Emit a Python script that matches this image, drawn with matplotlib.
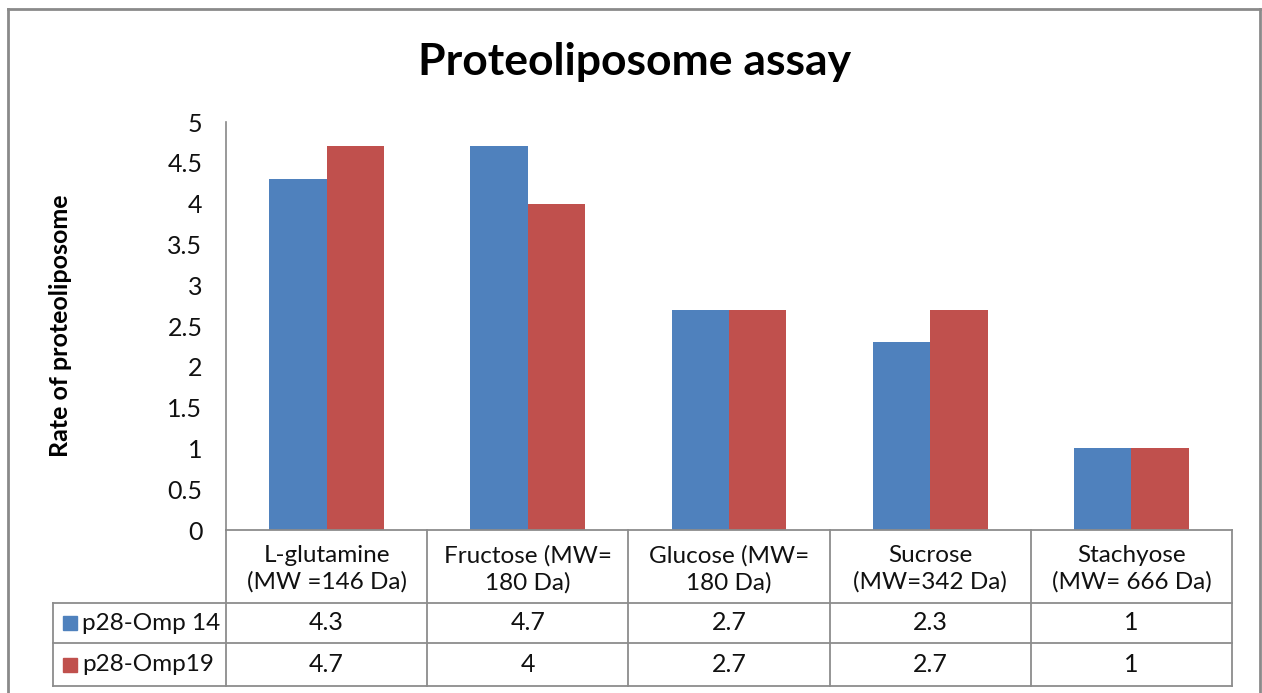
import matplotlib
matplotlib.use("Agg")
import matplotlib.pyplot as plt
import matplotlib.transforms as mtransforms
from matplotlib.lines import Line2D
from matplotlib.patches import Rectangle
import numpy as np

categories = ["L-glutamine\n(MW =146 Da)", "Fructose (MW=\n180 Da)", "Glucose (MW=\n180 Da)",
              "Sucrose\n(MW=342 Da)", "Stachyose\n(MW= 666 Da)"]
series_names = ["p28-Omp 14", "p28-Omp19"]
omp14 = [4.3, 4.7, 2.7, 2.3, 1]
omp19 = [4.7, 4, 2.7, 2.7, 1]
value_labels = [["4.3", "4.7", "2.7", "2.3", "1"], ["4.7", "4", "2.7", "2.7", "1"]]
yticks = [0, 0.5, 1, 1.5, 2, 2.5, 3, 3.5, 4, 4.5, 5]
ytick_labels = ["0", "0.5", "1", "1.5", "2", "2.5", "3", "3.5", "4", "4.5", "5"]
colors = ["#4F81BD", "#C0504D"]

plt.rcParams['font.family'] = ['Lato', 'DejaVu Sans']

W, H = 1262, 693
fig = plt.figure(figsize=(W / 100, H / 100), dpi=100)

def fx(px):
    return px / W

def fy(py):
    return 1 - py / H

ax_left, ax_right, ax_top, ax_bot = 226, 1232, 122, 530
ax = fig.add_axes([fx(ax_left), fy(ax_bot), fx(ax_right - ax_left), (ax_bot - ax_top) / H])

x = np.arange(len(categories))
bw = 0.285
ax.bar(x - bw / 2, omp14, bw, color=colors[0], zorder=2)
ax.bar(x + bw / 2, omp19, bw, color=colors[1], zorder=2)
ax.set_xlim(-0.5, len(categories) - 0.5)
ax.set_ylim(0, 5)
ax.set_yticks(yticks)
ax.set_yticklabels(ytick_labels, fontsize=18, color="#111111")
ax.tick_params(axis='y', length=0, pad=17)
ax.set_xticks([])
for s in ["top", "right", "bottom"]:
    ax.spines[s].set_visible(False)
ax.spines["left"].set_color("#888888")
ax.spines["left"].set_linewidth(1.2)

ax.set_ylabel("Rate of proteoliposome", fontsize=18, fontweight="bold")
ax.yaxis.set_label_coords((72 - ax_left) / (ax_right - ax_left), 0.5)

# Data table
axh = ax_bot - ax_top
def ya(py):
    return (ax_bot - py) / axh

trans = mtransforms.blended_transform_factory(ax.transData, ax.transAxes)
dpp = (len(categories)) / (ax_right - ax_left)
leg_left = -0.5 + (53 - ax_left) * dpp
right = len(categories) - 0.5
gc = "#8c8c8c"
lw = 1.3
row_y = [530, 603, 643, 686]
ax.add_line(Line2D([-0.5, right], [ya(530)] * 2, transform=trans, color=gc, lw=lw, clip_on=False))
for py in row_y[1:]:
    ax.add_line(Line2D([leg_left, right], [ya(py)] * 2, transform=trans, color=gc, lw=lw, clip_on=False))
for i in range(len(categories) + 1):
    ax.add_line(Line2D([i - 0.5] * 2, [ya(530), ya(686)], transform=trans, color=gc, lw=lw, clip_on=False))
ax.add_line(Line2D([leg_left] * 2, [ya(603), ya(686)], transform=trans, color=gc, lw=lw, clip_on=False))

for i, c in enumerate(categories):
    ax.text(x[i], ya(569), c, transform=trans, ha="center", va="center", fontsize=17.5,
            linespacing=1.3, color="#111111")
row_centers = [623, 664.5]
for r in range(2):
    for i in range(len(categories)):
        ax.text(x[i], ya(row_centers[r]), value_labels[r][i], transform=trans, ha="center",
                va="center", fontsize=18, color="#111111")
    sw = 14 * dpp
    swh = 14 / axh
    ax.add_patch(Rectangle((-0.5 + (63 - ax_left) * dpp, ya(row_centers[r]) - swh / 2), sw, swh,
                           transform=trans, color=colors[r], clip_on=False))
    ax.text(-0.5 + (82 - ax_left) * dpp, ya(row_centers[r]), series_names[r], transform=trans,
            ha="left", va="center", fontsize=17.5, color="#111111")

fig.text(fx(635), fy(62), "Proteoliposome assay", fontsize=32, fontweight="bold",
         ha="center", va="center")

# Outer frame
fc = "#8a8a8a"
fig.add_artist(Line2D([fx(8), fx(8)], [fy(9), 0], transform=fig.transFigure, color=fc, lw=2))
fig.add_artist(Line2D([fx(8), fx(1260)], [fy(9), fy(9)], transform=fig.transFigure, color=fc, lw=2))
fig.add_artist(Line2D([fx(1260), fx(1260)], [fy(9), 0], transform=fig.transFigure, color=fc, lw=2))

fig.savefig("out.png", dpi=100)
